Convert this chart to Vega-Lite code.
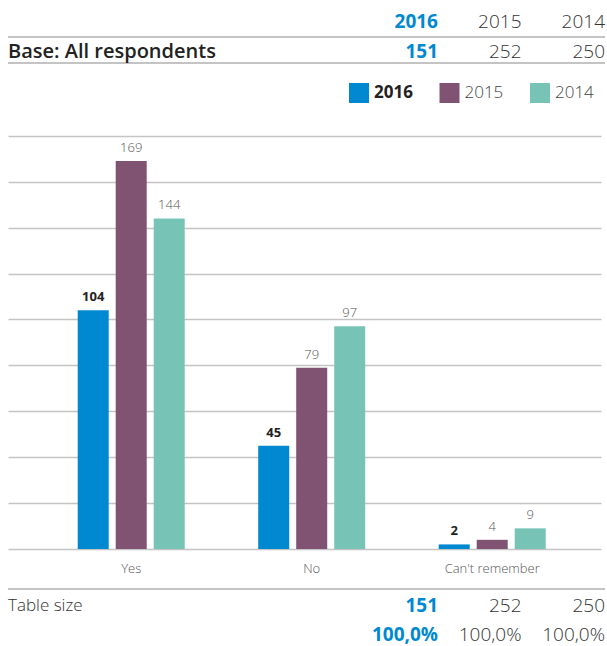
{
  "$schema": "https://vega.github.io/schema/vega-lite/v6.json",
  "padding": {"left": 7, "right": 0, "top": 0, "bottom": 0},
  "spacing": 0,
  "background": "white",
  "config": {"view": {"stroke": null}, "font": "Open Sans"},
  "datasets": {
    "bars": [
      {"answer": "Yes", "year": "2016", "count": 104},
      {"answer": "Yes", "year": "2015", "count": 169},
      {"answer": "Yes", "year": "2014", "count": 144},
      {"answer": "No", "year": "2016", "count": 45},
      {"answer": "No", "year": "2015", "count": 79},
      {"answer": "No", "year": "2014", "count": 97},
      {"answer": "Can't remember", "year": "2016", "count": 2},
      {"answer": "Can't remember", "year": "2015", "count": 4},
      {"answer": "Can't remember", "year": "2014", "count": 9}
    ],
    "headerCells": [
      {"row": "head", "col": "2016", "text": "2016"},
      {"row": "head", "col": "2015", "text": "2015"},
      {"row": "head", "col": "2014", "text": "2014"},
      {"row": "base", "col": "2016", "text": "151"},
      {"row": "base", "col": "2015", "text": "252"},
      {"row": "base", "col": "2014", "text": "250"}
    ],
    "headerRows": [
      {"row": "head", "label": ""},
      {"row": "base", "label": "Base: All respondents"}
    ],
    "footerCells": [
      {"row": "size", "col": "2016", "text": "151"},
      {"row": "size", "col": "2015", "text": "252"},
      {"row": "size", "col": "2014", "text": "250"},
      {"row": "pct", "col": "2016", "text": "100,0%"},
      {"row": "pct", "col": "2015", "text": "100,0%"},
      {"row": "pct", "col": "2014", "text": "100,0%"}
    ],
    "footerRows": [
      {"row": "size", "label": "Table size"},
      {"row": "pct", "label": ""}
    ],
    "legendItems": [
      {"year": "2016"},
      {"year": "2015"},
      {"year": "2014"}
    ]
  },
  "vconcat": [
    {
      "width": 597,
      "height": 63,
      "resolve": {"scale": {"x": "independent"}},
      "layer": [
        {
          "data": {"name": "headerRows"},
          "mark": {"type": "rule", "color": "#c4c4c4", "strokeWidth": 2},
          "encoding": {
            "y": {"field": "row", "type": "nominal", "bandPosition": 1, "axis": null,
              "scale": {"type": "band", "domain": ["head", "base"], "paddingInner": 0, "paddingOuter": 0.2115, "align": 1}}
          }
        },
        {
          "data": {"name": "headerRows"},
          "transform": [{"filter": "datum.row == 'base'"}],
          "mark": {"type": "text", "align": "left", "baseline": "middle", "dy": 2, "fontSize": 20, "fontWeight": 600, "color": "#222222"},
          "encoding": {
            "x": {"datum": "lbl", "type": "nominal", "bandPosition": 0, "axis": null,
              "scale": {"type": "band", "domain": ["lbl"], "paddingInner": 0, "paddingOuter": 0}},
            "y": {"field": "row", "type": "nominal", "axis": null,
              "scale": {"type": "band", "domain": ["head", "base"], "paddingInner": 0, "paddingOuter": 0.2115, "align": 1}},
            "text": {"field": "label"}
          }
        },
        {
          "data": {"name": "headerCells"},
          "transform": [{"filter": "datum.row == 'head' && datum.col == '2016'"}],
          "mark": {"type": "text", "align": "right", "baseline": "middle", "fontSize": 19, "fontWeight": "bold", "color": "#0089D0", "dy": -2},
          "encoding": {
            "x": {"field": "col", "type": "nominal", "bandPosition": 1, "axis": null,
              "scale": {"type": "band", "domain": ["2016", "2015", "2014"], "paddingInner": 0, "paddingOuter": 0, "range": [346.5, 597]}},
            "y": {"field": "row", "type": "nominal", "axis": null,
              "scale": {"type": "band", "domain": ["head", "base"], "paddingInner": 0, "paddingOuter": 0.2115, "align": 1}},
            "text": {"field": "text"}
          }
        },
        {
          "data": {"name": "headerCells"},
          "transform": [{"filter": "datum.row == 'head' && datum.col != '2016'"}],
          "mark": {"type": "text", "align": "right", "baseline": "middle", "fontSize": 19, "fontWeight": 300, "color": "#333333", "dy": -2},
          "encoding": {
            "x": {"field": "col", "type": "nominal", "bandPosition": 1, "axis": null,
              "scale": {"type": "band", "domain": ["2016", "2015", "2014"], "paddingInner": 0, "paddingOuter": 0, "range": [346.5, 597]}},
            "y": {"field": "row", "type": "nominal", "axis": null,
              "scale": {"type": "band", "domain": ["head", "base"], "paddingInner": 0, "paddingOuter": 0.2115, "align": 1}},
            "text": {"field": "text"}
          }
        },
        {
          "data": {"name": "headerCells"},
          "transform": [{"filter": "datum.row == 'base' && datum.col == '2016'"}],
          "mark": {"type": "text", "align": "right", "baseline": "middle", "dy": 2, "fontSize": 19, "fontWeight": "bold", "color": "#0089D0"},
          "encoding": {
            "x": {"field": "col", "type": "nominal", "bandPosition": 1, "axis": null,
              "scale": {"type": "band", "domain": ["2016", "2015", "2014"], "paddingInner": 0, "paddingOuter": 0, "range": [346.5, 597]}},
            "y": {"field": "row", "type": "nominal", "axis": null,
              "scale": {"type": "band", "domain": ["head", "base"], "paddingInner": 0, "paddingOuter": 0.2115, "align": 1}},
            "text": {"field": "text"}
          }
        },
        {
          "data": {"name": "headerCells"},
          "transform": [{"filter": "datum.row == 'base' && datum.col != '2016'"}],
          "mark": {"type": "text", "align": "right", "baseline": "middle", "dy": 2, "fontSize": 19, "fontWeight": 300, "color": "#333333"},
          "encoding": {
            "x": {"field": "col", "type": "nominal", "bandPosition": 1, "axis": null,
              "scale": {"type": "band", "domain": ["2016", "2015", "2014"], "paddingInner": 0, "paddingOuter": 0, "range": [346.5, 597]}},
            "y": {"field": "row", "type": "nominal", "axis": null,
              "scale": {"type": "band", "domain": ["head", "base"], "paddingInner": 0, "paddingOuter": 0.2115, "align": 1}},
            "text": {"field": "text"}
          }
        }
      ]
    },
    {
      "width": 597,
      "height": 58,
      "data": {"name": "legendItems"},
      "encoding": {
        "x": {"field": "year", "type": "nominal", "axis": null,
          "scale": {"type": "point", "domain": ["2016", "2015", "2014"], "padding": 0, "range": [351, 532]}}
      },
      "layer": [
        {
          "mark": {"type": "point", "shape": "square", "filled": true, "size": 400, "opacity": 1, "strokeWidth": 0},
          "encoding": {
            "color": {"field": "year", "type": "nominal", "legend": null,
              "scale": {"domain": ["2016", "2015", "2014"], "range": ["#0089D0", "#805373", "#77C4B7"]}}
          }
        },
        {
          "transform": [{"filter": "datum.year == '2016'"}],
          "mark": {"type": "text", "align": "left", "baseline": "middle", "dx": 15, "fontSize": 17, "fontWeight": "bold", "color": "#222222"},
          "encoding": {"text": {"field": "year"}}
        },
        {
          "transform": [{"filter": "datum.year != '2016'"}],
          "mark": {"type": "text", "align": "left", "baseline": "middle", "dx": 15, "fontSize": 17, "fontWeight": 300, "color": "#444444"},
          "encoding": {"text": {"field": "year"}}
        }
      ]
    },
    {
      "width": 593,
      "height": 427,
      "data": {"name": "bars"},
      "encoding": {
        "x": {"field": "answer", "type": "nominal",
          "scale": {"domain": ["Yes", "No", "Can't remember"], "paddingInner": 0, "paddingOuter": 0.1427, "align": 0.64},
          "axis": {"title": null, "domain": false, "ticks": false, "labelAngle": 0, "labelPadding": 13, "labelFontSize": 13, "labelFontWeight": 300, "labelColor": "#555555", "labelFont": "Open Sans", "minExtent": 39, "maxExtent": 39}},
        "xOffset": {"field": "year", "type": "nominal",
          "scale": {"domain": ["2016", "2015", "2014"], "paddingInner": 0.184, "paddingOuter": 0.967}},
        "y": {"field": "count", "type": "quantitative",
          "scale": {"domain": [0, 186], "nice": false, "zero": true},
          "axis": {"title": null, "values": [0, 20, 40, 60, 80, 100, 120, 140, 160, 180], "grid": true, "gridColor": "#c4c4c4", "gridWidth": 1.5, "labels": false, "ticks": false, "domain": false, "minExtent": 0, "maxExtent": 0}}
      },
      "layer": [
        {
          "mark": {"type": "bar"},
          "encoding": {
            "color": {"field": "year", "type": "nominal", "legend": null,
              "scale": {"domain": ["2016", "2015", "2014"], "range": ["#0089D0", "#805373", "#77C4B7"]}}
          }
        },
        {
          "transform": [{"filter": "datum.year == '2016'"}],
          "mark": {"type": "text", "baseline": "alphabetic", "dy": -9, "fontSize": 13, "fontWeight": "bold", "color": "#222222"},
          "encoding": {"text": {"field": "count", "type": "quantitative"}}
        },
        {
          "transform": [{"filter": "datum.year != '2016'"}],
          "mark": {"type": "text", "baseline": "alphabetic", "dy": -9, "fontSize": 13, "fontWeight": 300, "color": "#555555"},
          "encoding": {"text": {"field": "count", "type": "quantitative"}}
        }
      ]
    },
    {
      "width": 597,
      "height": 59,
      "resolve": {"scale": {"x": "independent"}},
      "layer": [
        {
          "data": {"name": "footerRows"},
          "transform": [{"filter": "datum.row == 'size'"}],
          "mark": {"type": "rule", "color": "#c4c4c4", "strokeWidth": 2},
          "encoding": {
            "y": {"field": "row", "type": "nominal", "bandPosition": 0, "axis": null,
              "scale": {"type": "band", "domain": ["size", "pct"], "paddingInner": 0, "paddingOuter": 0}}
          }
        },
        {
          "data": {"name": "footerRows"},
          "transform": [{"filter": "datum.row == 'size'"}],
          "mark": {"type": "text", "align": "left", "baseline": "middle", "dy": 2, "fontSize": 17, "fontWeight": 300, "color": "#333333"},
          "encoding": {
            "x": {"datum": "lbl", "type": "nominal", "bandPosition": 0, "axis": null,
              "scale": {"type": "band", "domain": ["lbl"], "paddingInner": 0, "paddingOuter": 0}},
            "y": {"field": "row", "type": "nominal", "axis": null,
              "scale": {"type": "band", "domain": ["size", "pct"], "paddingInner": 0, "paddingOuter": 0}},
            "text": {"field": "label"}
          }
        },
        {
          "data": {"name": "footerCells"},
          "transform": [{"filter": "datum.col == '2016'"}],
          "mark": {"type": "text", "align": "right", "baseline": "middle", "dy": 2, "fontSize": 19, "fontWeight": "bold", "color": "#0089D0"},
          "encoding": {
            "x": {"field": "col", "type": "nominal", "bandPosition": 1, "axis": null,
              "scale": {"type": "band", "domain": ["2016", "2015", "2014"], "paddingInner": 0, "paddingOuter": 0, "range": [346.5, 597]}},
            "y": {"field": "row", "type": "nominal", "axis": null,
              "scale": {"type": "band", "domain": ["size", "pct"], "paddingInner": 0, "paddingOuter": 0}},
            "text": {"field": "text"}
          }
        },
        {
          "data": {"name": "footerCells"},
          "transform": [{"filter": "datum.col != '2016'"}],
          "mark": {"type": "text", "align": "right", "baseline": "middle", "dy": 2, "fontSize": 19, "fontWeight": 300, "color": "#333333"},
          "encoding": {
            "x": {"field": "col", "type": "nominal", "bandPosition": 1, "axis": null,
              "scale": {"type": "band", "domain": ["2016", "2015", "2014"], "paddingInner": 0, "paddingOuter": 0, "range": [346.5, 597]}},
            "y": {"field": "row", "type": "nominal", "axis": null,
              "scale": {"type": "band", "domain": ["size", "pct"], "paddingInner": 0, "paddingOuter": 0}},
            "text": {"field": "text"}
          }
        }
      ]
    }
  ]
}
